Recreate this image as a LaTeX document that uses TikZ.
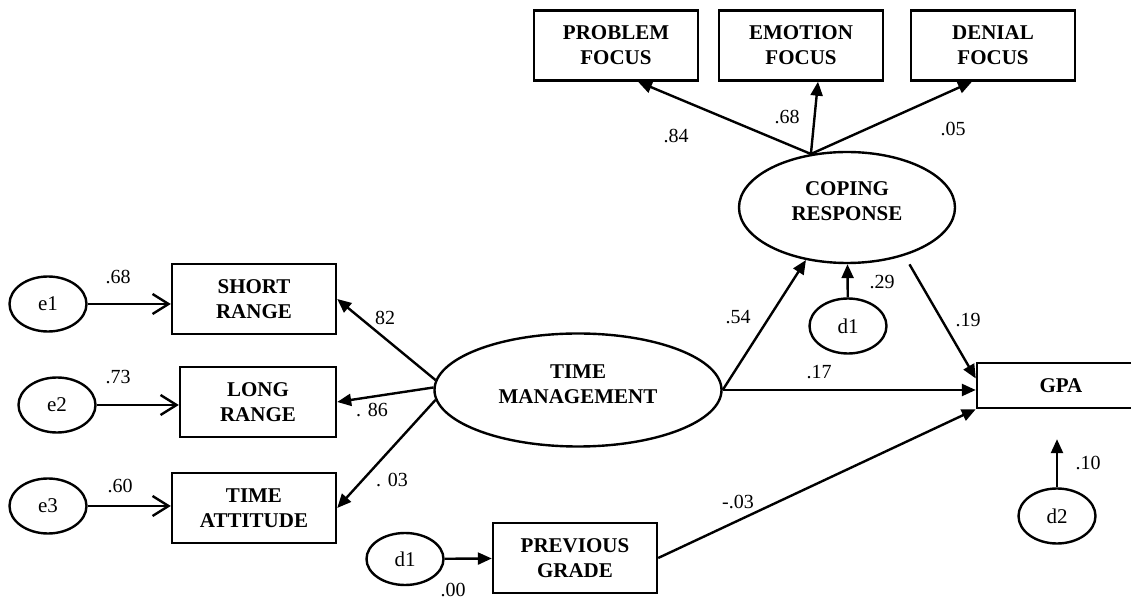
\documentclass[tikz,border=0pt]{standalone}
\usepackage{fontspec}
\setmainfont{Liberation Serif}
\usetikzlibrary{arrows.meta,positioning,shapes.geometric}
\tikzset{
  sembox/.style={draw, line width=1.2pt, rectangle, align=center, minimum width=82pt, minimum height=35pt, inner sep=0pt, font=\fontsize{10.5}{12.5}\selectfont\bfseries},
  semlatent/.style={draw, line width=1.2pt, ellipse, inner sep=0pt},
  semname/.style={align=center, inner sep=0pt, yshift=3pt, font=\fontsize{10.5}{12.5}\selectfont\bfseries},
  semerr/.style={draw, line width=1.2pt, ellipse, minimum width=38.5pt, minimum height=27.5pt, inner sep=0pt, font=\fontsize{10.5}{12.5}\selectfont},
  semarr/.style={-{Triangle[length=7pt,width=6pt]}, line width=1.2pt},
  semopen/.style={-{Straight Barb[length=8pt,width=10pt]}, line width=1.2pt},
  semlbl/.style={inner sep=0pt, font=\fontsize{10}{12}\selectfont}
}
\begin{document}
\begin{tikzpicture}[x=0.5pt, y=-0.5pt]
  \useasboundingbox (0,0) rectangle (1131,598);
  % time management and its indicators
  \node[semlatent, minimum width=143.5pt, minimum height=56.5pt, label={[semname]center:{TIME\\MANAGEMENT}}] (tm) at (578,390) {};
  \node[sembox] (short) at (254,299) {SHORT\\RANGE};
  \node[sembox, minimum width=78pt] (long) at (258,402) {LONG\\RANGE};
  \node[sembox] (attitude) at (254,508) {TIME\\ATTITUDE};
  \node[semerr] (e1) at (48,304) {e1};
  \node[semerr] (e2) at (57,405) {e2};
  \node[semerr] (e3) at (48,506) {e3};
  % coping response and its indicators
  \node[semlatent, minimum width=108pt, minimum height=55.5pt, label={[semname]center:{COPING\\RESPONSE}}] (coping) at (847,207.5) {};
  \node[sembox] (problem) at (616,45.5) {PROBLEM\\FOCUS};
  \node[sembox] (emotion) at (801,45.5) {EMOTION\\FOCUS};
  \node[sembox] (denial) at (993,45.5) {DENIAL\\FOCUS};
  \node[semerr] (d1c) at (848,326) {d1};
  % outcome
  \node[sembox, minimum width=84pt, minimum height=22.5pt] (gpa) at (1061,385.5) {GPA};
  \node[semerr] (d2) at (1057,516) {d2};
  \node[sembox] (prev) at (575,558) {PREVIOUS\\GRADE};
  \node[semerr, minimum height=26pt] (d1p) at (405,559) {d1};

  \draw[semopen] (e1) -- (e1 -| short.west);
  \draw[semopen] (e2) -- (e2 -| long.west);
  \draw[semopen] (e3) -- (e3 -| attitude.west);
  \draw[semarr] (tm.176) -- (short.east);
  \draw[semarr] (tm.179) -- (long.east);
  \draw[semarr] (tm.184) -- (attitude.east);
  \draw[semarr] (tm.east) -- (coping.232);
  \draw[semarr] (tm.east) -- (tm.east -| gpa.west);
  \draw[semarr] (coping.124) -- ([xshift=11pt]problem.south);
  \draw[semarr] (coping.124) -- ([xshift=8.5pt]emotion.south);
  \draw[semarr] (coping.124) -- ([xshift=-10.5pt]denial.south);
  \draw[semarr] (d1c) -- (coping);
  \draw[semarr, shorten <=5pt] (coping.320) -- ([yshift=3.5pt]gpa.west);
  \draw[semarr] (prev.east) -- (gpa.south west);
  \draw[semarr] (d1p) -- (prev);
  \draw[semarr, shorten >=15pt] (d2) -- (d2 |- gpa.south);

  % path coefficients
  \node[semlbl] (v68) at (118,277) {.68};
  \node[semlbl] (v73) at (118,377) {.73};
  \node[semlbl] (v60) at (120,486) {.60};
  \node[semlbl] (v82) at (385,318) {82};
  \node[semlbl] (v86) at (372,410) {. 86};
  \node[semlbl] (v03) at (392,480) {. 03};
  \node[semlbl] (v84) at (676,136) {.84};
  \node[semlbl] (v68b) at (787,117) {.68};
  \node[semlbl] (v05) at (953,129) {.05};
  \node[semlbl] (v54) at (738,317) {.54};
  \node[semlbl] (v29) at (882,282) {.29};
  \node[semlbl] (v19) at (968,320) {.19};
  \node[semlbl] (v17) at (819,372) {.17};
  \node[semlbl] (vm03) at (738,502) {-.03};
  \node[semlbl] (v00) at (453,590) {.00};
  \node[semlbl] (v10) at (1088,463) {.10};
\end{tikzpicture}
\end{document}
